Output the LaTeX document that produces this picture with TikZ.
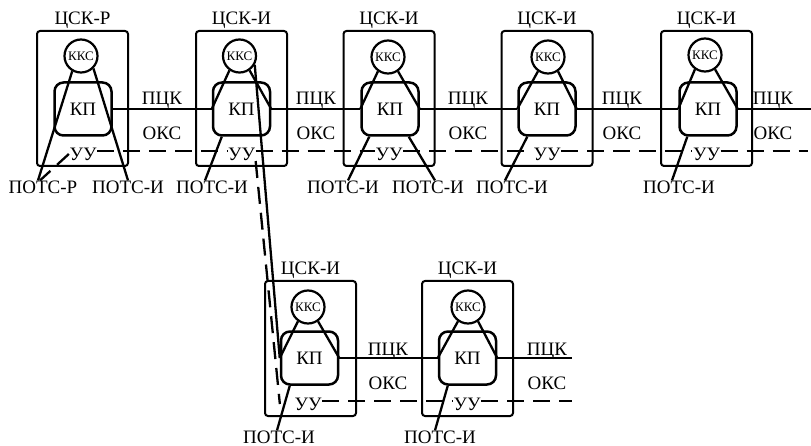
\documentclass[tikz,border=0pt]{standalone}
\usepackage{fontspec}
\setmainfont{Liberation Serif}
\usepackage{tikz}
\usetikzlibrary{positioning}
\newcommand{\bigLabel}{\fontsize{19}{21}\selectfont}
\newcommand{\smallLabel}{\fontsize{13}{14}\selectfont}
\tikzset{
  csk/.style={draw,line width=2pt,rounded corners=3pt,minimum width=91pt,minimum height=135pt,inner sep=0pt},
  kks/.style={draw,line width=2.2pt,circle,minimum size=33pt,inner sep=0pt,font=\smallLabel},
  kp/.style={draw,line width=2.5pt,rounded corners=9pt,minimum width=57pt,minimum height=53pt,inner sep=0pt,font=\bigLabel},
  lab/.style={inner sep=0pt,font=\bigLabel},
  uu/.style={inner sep=0.5pt,font=\bigLabel},
  pck/.style={line width=2.3pt},
  oks/.style={line width=2.3pt,dash pattern=on 17pt off 9pt},
}

\begin{document}
\begin{tikzpicture}[x=1pt,y=-1pt]
\useasboundingbox (0,0) rectangle (811,446);
% upper row
\node[csk] (u1) at (82.5,98.5) {};
\node[csk] (u2) at (241.5,98.5) {};
\node[csk] (u3) at (389,98.5) {};
\node[csk] (u4) at (547,98.5) {};
\node[csk] (u5) at (706.5,98.5) {};
\node[lab,above=1pt of u1] (u1name) {ЦСК-Р};
\node[lab,above=1pt of u2] (u2name) {ЦСК-И};
\node[lab,above=1pt of u3] (u3name) {ЦСК-И};
\node[lab,above=1pt of u4] (u4name) {ЦСК-И};
\node[lab,above=1pt of u5] (u5name) {ЦСК-И};
\node[kks] (u1kks) at (81,56) {ККС};
\node[kks] (u2kks) at (239.5,56) {ККС};
\node[kks] (u3kks) at (388,57) {ККС};
\node[kks] (u4kks) at (548,57) {ККС};
\node[kks] (u5kks) at (705,55) {ККС};
\node[kp] (u1kp) at (83,109) {КП};
\node[kp] (u2kp) at (241.5,109) {КП};
\node[kp] (u3kp) at (390,109) {КП};
\node[kp] (u4kp) at (547,109) {КП};
\node[kp] (u5kp) at (708,109) {КП};
\node[uu] (u1uu) at (83,154) {УУ};
\node[uu] (u2uu) at (241.5,154) {УУ};
\node[uu] (u3uu) at (389,154) {УУ};
\node[uu] (u4uu) at (547,154) {УУ};
\node[uu] (u5uu) at (706.5,154) {УУ};
\node[lab] (potsR) at (43,187) {ПОТС-Р};
\node[lab] (potsI1) at (128,187) {ПОТС-И};
\node[lab] (potsI2) at (212,187) {ПОТС-И};
\node[lab] (potsI3) at (343,187) {ПОТС-И};
\node[lab] (potsI4) at (428,187) {ПОТС-И};
\node[lab] (potsI5) at (512,187) {ПОТС-И};
\node[lab] (potsI6) at (679,187) {ПОТС-И};
\node[lab,anchor=base] at (162,105) {ПЦК};
\node[lab,anchor=base] at (316,105) {ПЦК};
\node[lab,anchor=base] at (468,105) {ПЦК};
\node[lab,anchor=base] at (622,105) {ПЦК};
\node[lab,anchor=base] at (773,105) {ПЦК};
\node[lab,anchor=base] at (162,140) {ОКС};
\node[lab,anchor=base] at (316,140) {ОКС};
\node[lab,anchor=base] at (468,140) {ОКС};
\node[lab,anchor=base] at (622,140) {ОКС};
\node[lab,anchor=base] at (773,140) {ОКС};
\coordinate (pckEnd) at (811,109);
\coordinate (oksEnd) at (808,151);
% lower row
\node[csk] (l1) at (310.5,348.5) {};
\node[csk] (l2) at (467.5,348.5) {};
\node[lab,above=1pt of l1] (l1name) {ЦСК-И};
\node[lab,above=1pt of l2] (l2name) {ЦСК-И};
\node[kks] (l1kks) at (308,307) {ККС};
\node[kks] (l2kks) at (468,307) {ККС};
\node[kp] (l1kp) at (309.5,358) {КП};
\node[kp] (l2kp) at (467.5,358) {КП};
\node[uu] (l1uu) at (308,404) {УУ};
\node[uu] (l2uu) at (467,404) {УУ};
\node[lab] (potsI7) at (279,437) {ПОТС-И};
\node[lab] (potsI8) at (440,437) {ПОТС-И};
\node[lab,anchor=base] at (388,355) {ПЦК};
\node[lab,anchor=base] at (547,355) {ПЦК};
\node[lab,anchor=base] at (388,389) {ОКС};
\node[lab,anchor=base] at (547,389) {ОКС};
\coordinate (pckLowEnd) at (572,358);
\coordinate (oksLowEnd) at (572,401);

\draw[pck] (u1kp.east) -- (u2kp.west) (u2kp.east) -- (u3kp.west) (u3kp.east) -- (u4kp.west) (u4kp.east) -- (u5kp.west) (u5kp.east) -- (pckEnd);
\draw[pck] (l1kp.east) -- (l2kp.west) (l2kp.east) -- (pckLowEnd);
\draw[oks] ([yshift=3pt]u1uu.east) -- ([yshift=3pt]u2uu.west) ([yshift=3pt]u2uu.east) -- ([yshift=3pt]u3uu.west) ([yshift=3pt]u3uu.east) -- ([yshift=3pt]u4uu.west) ([yshift=3pt]u4uu.east) -- ([yshift=3pt]u5uu.west) ([yshift=3pt]u5uu.east) -- (oksEnd);
\draw[oks] ([yshift=3pt]l1uu.east) -- ([yshift=3pt]l2uu.west) ([yshift=3pt]l2uu.east) -- (oksLowEnd);
\draw[oks,dash pattern=on 16pt off 9pt] (u1uu.west) -- ([xshift=-3pt]potsR.north);
\draw[oks] (u2uu.south east) -- ([xshift=-14pt]l1uu.west);

\draw[pck] (u1kks.240) -- ([xshift=-5pt]potsR.north);
\draw[pck] (u1kks.315) -- (potsI1.north);
\draw[pck] (u2kks.235) -- (u2kp.west) (u2kks.305) -- (u2kp.east);
\draw[pck] (u3kks.235) -- (u3kp.west) (u3kks.305) -- (u3kp.east);
\draw[pck] (u4kks.235) -- (u4kp.west) (u4kks.305) -- (u4kp.east);
\draw[pck] (u5kks.235) -- (u5kp.west) (u5kks.305) -- (u5kp.east);
\draw[pck] (l1kks.235) -- (l1kp.west) (l1kks.305) -- (l1kp.east);
\draw[pck] (l2kks.235) -- (l2kp.west) (l2kks.305) -- (l2kp.east);
\draw[pck] (u2kks.330) -- (l1kp.west);

\draw[pck] ([xshift=10pt]u2kp.south west) -- ([xshift=-7pt]potsI2.north);
\draw[pck] ([xshift=9pt]u3kp.south west) -- ([xshift=5pt]potsI3.north);
\draw[pck] ([xshift=-11pt]u3kp.south east) -- ([xshift=7pt]potsI4.north);
\draw[pck] ([xshift=10pt]u4kp.south west) -- ([xshift=-7pt]potsI5.north);
\draw[pck] ([xshift=9pt]u5kp.south west) -- ([xshift=-7pt]potsI6.north);
\draw[pck] ([xshift=10pt]l1kp.south west) -- ([xshift=-2pt]potsI7.north);
\draw[pck] ([xshift=10pt]l2kp.south west) -- ([xshift=-5pt]potsI8.north);
\end{tikzpicture}
\end{document}
